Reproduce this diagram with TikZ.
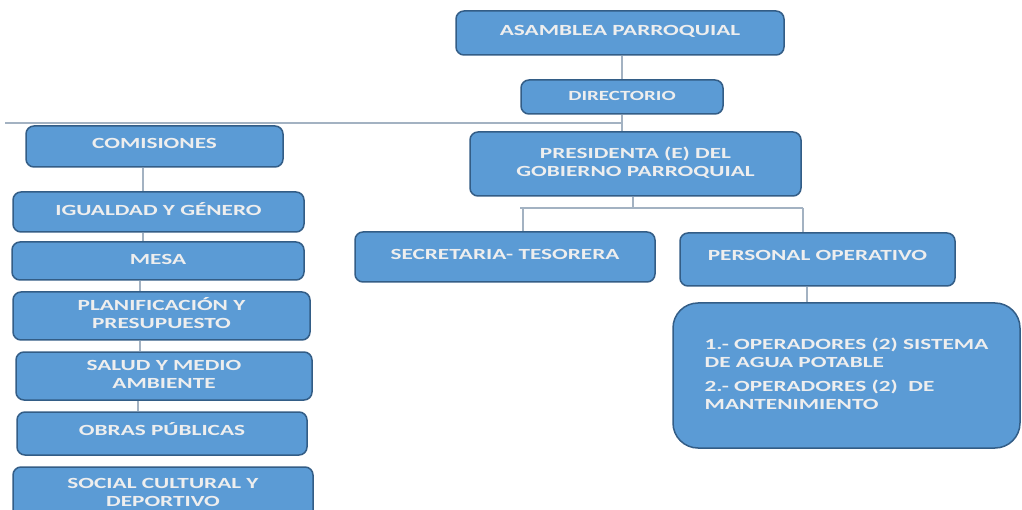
\documentclass[tikz,border=0pt]{standalone}
\usepackage{fontspec}
\setmainfont{Carlito}[FakeStretch=1.5]
\definecolor{boxblue}{HTML}{5B9BD5}
\definecolor{boxedge}{HTML}{335D86}
\definecolor{boxtext}{HTML}{EEEEEE}
\definecolor{linegray}{HTML}{A3B2C2}
\newcommand\tx[2]{\raisebox{#1pt}{\begin{tabular}{@{}c@{}}#2\end{tabular}}}
\newcommand\txl[2]{\raisebox{#1pt}{\begin{tabular}{@{}l@{}}#2\end{tabular}}}
\begin{document}
\begin{tikzpicture}[x=1pt,y=-1pt,
  bx/.style={rectangle, rounded corners=8pt, fill=boxblue, draw=boxedge,
    line width=1.5pt, text=boxtext, inner sep=0pt,
    font=\fontsize{15.5}{18}\selectfont\bfseries},
  ln/.style={draw=linegray, line width=1.4pt}]
\clip (0,0) rectangle (1022,510);
\fill[white] (0,0) rectangle (1022,510);
% right branch
\node[bx, minimum width=328pt, minimum height=44pt] (asam) at (620,33) {\tx{7}{ASAMBLEA PARROQUIAL}};
\node[bx, minimum width=202pt, minimum height=34pt, font=\fontsize{14}{17}\selectfont\bfseries] (dir) at (622,97) {\tx{0}{DIRECTORIO}};
\node[bx, minimum width=331pt, minimum height=64pt] (pres) at (635.5,164) {\tx{4}{PRESIDENTA (E) DEL\\GOBIERNO PARROQUIAL}};
\node[bx, minimum width=300pt, minimum height=50pt] (sec) at (505,257) {\tx{8}{SECRETARIA- TESORERA}};
\node[bx, minimum width=275pt, minimum height=53pt] (pers) at (817.5,259.5) {\tx{11}{PERSONAL OPERATIVO}};
\node[bx, rounded corners=25pt, minimum width=347pt, minimum height=145pt] (oper) at (846.5,375.5) {\txl{9}{1.- OPERADORES (2) SISTEMA\\DE AGUA POTABLE\\[6pt]2.- OPERADORES (2)\ \ DE\\MANTENIMIENTO}};
% left column
\node[bx, minimum width=257pt, minimum height=41pt] (com) at (154.5,146.5) {\tx{9}{COMISIONES}};
\node[bx, minimum width=291pt, minimum height=40pt] (igu) at (158.5,212) {\tx{6}{IGUALDAD Y GÉNERO}};
\node[bx, minimum width=292pt, minimum height=38pt] (mesa) at (158,261) {\tx{4}{MESA}};
\node[bx, minimum width=297pt, minimum height=48pt] (plan) at (161.5,316) {\tx{-3}{PLANIFICACIÓN Y\\PRESUPUESTO}};
\node[bx, minimum width=296pt, minimum height=48pt] (salud) at (164,376) {\tx{0}{SALUD Y MEDIO\\AMBIENTE}};
\node[bx, minimum width=290pt, minimum height=43pt] (obras) at (162,433.5) {\tx{9}{OBRAS PÚBLICAS}};
\node[bx, minimum width=300pt, minimum height=53pt] (social) at (163,493.5) {\tx{0}{SOCIAL CULTURAL Y\\DEPORTIVO}};
% connectors
\coordinate (lb) at (5,123);
\coordinate (pj) at (633,208);
\coordinate (bl) at (520,208);
\coordinate (bd) at (523,208);
\coordinate (br) at (803,208);
\coordinate (pd) at (807,290);
\coordinate (lc) at (143,0);
\coordinate (lc2) at (140,0);
\coordinate (lc3) at (138,0);
\draw[ln] (asam.south -| dir) -- (dir.north);
\draw[ln] (dir.south) -- (dir.south |- pres.north);
\draw[ln] (lb) -- (lb -| dir.south);
\draw[ln] (pj |- pres.south) -- (pj);
\draw[ln] (bl) -- (br);
\draw[ln] (bd) -- (bd |- sec.north);
\draw[ln] (br) -- (br |- pers.north);
\draw[ln] (pd |- pers.south) -- (pd |- oper.north);
\draw[ln] (lc |- com.south) -- (lc |- igu.north);
\draw[ln] (lc |- igu.south) -- (lc |- mesa.north);
\draw[ln] (lc2 |- mesa.south) -- (lc2 |- plan.north);
\draw[ln] (lc2 |- plan.south) -- (lc2 |- salud.north);
\draw[ln] (lc3 |- salud.south) -- (lc3 |- obras.north);
\end{tikzpicture}
\end{document}
